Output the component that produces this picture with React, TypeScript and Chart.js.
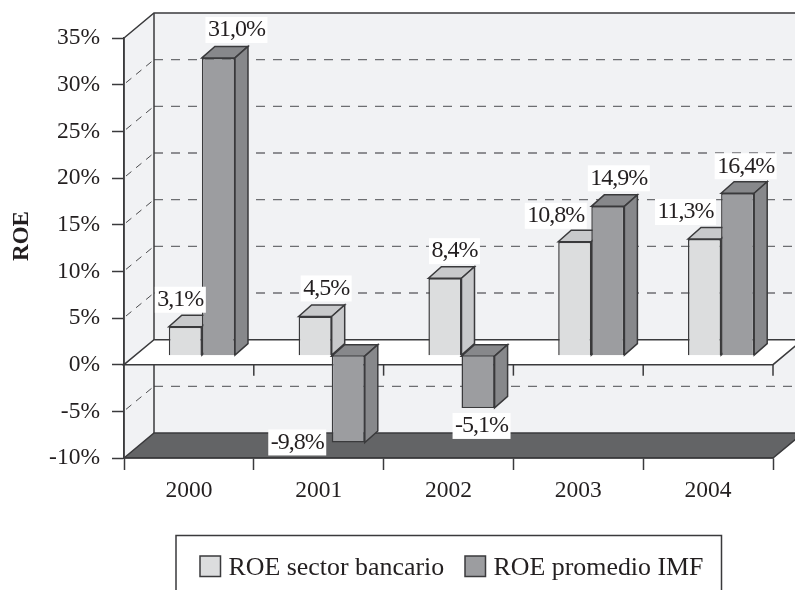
import React, { useEffect, useRef } from "react";
import { Chart, registerables } from "chart.js";

Chart.register(...registerables);

const years = ["2000", "2001", "2002", "2003", "2004"];
const seriesNames = ["ROE sector bancario", "ROE promedio IMF"];
const axisTitle = "ROE";
// Bar heights as drawn in the picture
const sectorHeights = [3.1, 4.2, 8.3, 12.2, 12.5];
const imfHeights = [31.9, -9.3, -5.6, 16.0, 17.4];
// Labels as printed on the picture
const sectorLabels = ["3,1%", "4,5%", "8,4%", "10,8%", "11,3%"];
const imfLabels = ["31,0%", "-9,8%", "-5,1%", "14,9%", "16,4%"];

const INK = "#3a3a3c";
const TEXT = "#231f20";
const WALL = "#f1f2f4";
const FLOOR = "#636466";
const GRID = "#6d6e71";
const FONT = '"Liberation Serif", serif';
const WALL_DX = 30;
const WALL_DY = -25;
const BAR_DX = 13;
const BAR_DY = -9;
const SIDE_DX = 13;
const SIDE_DY = -11.5;

const faces = [
  { front: "#dcddde", side: "#c8c9cb", top: "#c8c9cb" },
  { front: "#9c9da0", side: "#87888b", top: "#87888b" },
];
const labelNudge = [
  [[-5, -27], [11, -28], [9.5, -27], [-19, -26], [-19, -27]],
  [[18, -28], [-51, 0], [3.5, 18], [11, -28], [8, -27]],
];

function poly(ctx: CanvasRenderingContext2D, pts: number[][], fill: string | null, stroke: string | null, lw = 1.5) {
  ctx.beginPath();
  pts.forEach((p, i) => (i ? ctx.lineTo(p[0], p[1]) : ctx.moveTo(p[0], p[1])));
  if (fill) {
    ctx.closePath();
    ctx.fillStyle = fill;
    ctx.fill();
  }
  if (stroke) {
    ctx.strokeStyle = stroke;
    ctx.lineWidth = lw;
    ctx.stroke();
  }
}

const roomPlugin = {
  id: "room",
  beforeDraw(chart: any) {
    const { ctx, chartArea: a, scales } = chart;
    const y = scales.y;
    const top = a.top;
    const bottom = a.bottom;
    const z = y.getPixelForValue(0);
    const L = a.left;
    const R = a.right;
    ctx.save();
    poly(ctx, [[L + WALL_DX, top + WALL_DY], [R + WALL_DX, top + WALL_DY], [R + WALL_DX, bottom + WALL_DY], [L + WALL_DX, bottom + WALL_DY]], WALL, null);
    poly(ctx, [[L, top], [L + WALL_DX, top + WALL_DY], [L + WALL_DX, bottom + WALL_DY], [L, bottom]], WALL, null);
    for (let v = -5; v <= 30; v += 5) {
      if (v === 0) continue;
      const py = y.getPixelForValue(v);
      ctx.setLineDash([9, 8]);
      poly(ctx, [[L + WALL_DX, py + WALL_DY], [R + WALL_DX, py + WALL_DY]], null, GRID, 1.3);
      ctx.setLineDash([7, 6]);
      poly(ctx, [[L + 2, py - 2], [L + WALL_DX, py + WALL_DY]], null, INK, 0.9);
    }
    ctx.setLineDash([]);
    poly(ctx, [[L, top], [L + WALL_DX, top + WALL_DY], [R + WALL_DX, top + WALL_DY]], null, INK);
    poly(ctx, [[L + WALL_DX, top + WALL_DY], [L + WALL_DX, bottom + WALL_DY]], null, INK);
    poly(ctx, [[L, bottom], [L + WALL_DX, bottom + WALL_DY], [R + WALL_DX, bottom + WALL_DY], [R, bottom]], FLOOR, INK);
    poly(ctx, [[L, z], [L + WALL_DX, z + WALL_DY], [R + WALL_DX, z + WALL_DY], [R, z]], "#ffffff", INK);
    const step = (R - L) / years.length;
    for (let i = 1; i <= years.length; i++) {
      poly(ctx, [[L + i * step, z], [L + i * step, z + 11]], null, INK);
    }
    poly(ctx, [[L, top], [L, bottom]], null, INK);
    ctx.restore();
  },
  // The library would paint the later dataset first; the picture needs it on top.
  beforeDatasetDraw() {
    return false;
  },
  beforeDatasetsDraw(chart: any) {
    const { ctx } = chart;
    [0, 1].forEach((s) => {
      const meta = chart.getDatasetMeta(s);
      const f = faces[s];
      ctx.save();
      ctx.translate(BAR_DX, BAR_DY);
      meta.data.forEach((bar: any) => {
        const w = bar.width / 2;
        const l = bar.x - w;
        const r = bar.x + w;
        const t = Math.min(bar.y, bar.base);
        const b = Math.max(bar.y, bar.base);
        poly(ctx, [[l, t], [l + SIDE_DX, t + SIDE_DY], [r + SIDE_DX, t + SIDE_DY], [r, t]], f.top, INK);
        poly(ctx, [[r, t], [r + SIDE_DX, t + SIDE_DY], [r + SIDE_DX, b + SIDE_DY], [r, b]], f.side, INK);
      });
      meta.controller.draw();
      ctx.restore();
    });
  },
  afterDatasetsDraw(chart: any) {
    const { ctx } = chart;
    ctx.save();
    ctx.font = `24px ${FONT}`;
    (ctx as any).letterSpacing = "-1px";
    ctx.textAlign = "center";
    ctx.textBaseline = "middle";
    [sectorLabels, imfLabels].forEach((labels, s) => {
      const meta = chart.getDatasetMeta(s);
      labels.forEach((text, i) => {
        const bar = meta.data[i];
        const edge = bar.y + BAR_DY;
        const cx = bar.x + BAR_DX + labelNudge[s][i][0];
        const cy = edge + labelNudge[s][i][1];
        const w = ctx.measureText(text).width + 5;
        ctx.fillStyle = "#ffffff";
        ctx.fillRect(cx - w / 2, cy - 13, w, 26);
        ctx.fillStyle = TEXT;
        ctx.fillText(text, cx, cy);
      });
    });
    (ctx as any).letterSpacing = "0px";
    // legend
    poly(ctx, [[176, 590], [176, 535.5], [721.5, 535.5], [721.5, 590]], null, INK);
    ctx.textAlign = "left";
    ctx.textBaseline = "alphabetic";
    ctx.font = `25.9px ${FONT}`;
    const xs = [200, 465];
    seriesNames.forEach((name, s) => {
      ctx.fillStyle = faces[s].front;
      ctx.fillRect(xs[s], 556, 20.5, 20.5);
      ctx.strokeStyle = INK;
      ctx.lineWidth = 1.5;
      ctx.strokeRect(xs[s], 556, 20.5, 20.5);
      ctx.fillStyle = TEXT;
      ctx.fillText(name, xs[s] + 28.5, 575);
    });
    // axis title
    ctx.translate(22, 236);
    ctx.rotate(-Math.PI / 2);
    ctx.textAlign = "center";
    ctx.textBaseline = "middle";
    ctx.font = `bold 23px ${FONT}`;
    ctx.fillText(axisTitle, 0, 0);
    ctx.restore();
  },
};

export default function App() {
  const ref = useRef<HTMLCanvasElement>(null);
  useEffect(() => {
    const chart = new Chart(ref.current as HTMLCanvasElement, {
      type: "bar",
      data: {
        labels: years,
        datasets: [
          { label: seriesNames[0], data: sectorHeights, backgroundColor: faces[0].front, borderColor: INK, borderWidth: 1.5 },
          { label: seriesNames[1], data: imfHeights, backgroundColor: faces[1].front, borderColor: INK, borderWidth: 1.5 },
        ],
      } as any,
      options: {
        responsive: false,
        animation: false,
        layout: { padding: { top: 38, right: 22, left: 0, bottom: 0 } },
        categoryPercentage: 0.51,
        barPercentage: 1,
        plugins: { legend: { display: false }, tooltip: { enabled: false } },
        scales: {
          x: {
            grid: { drawOnChartArea: false, tickLength: 12, tickColor: INK, tickWidth: 1.5 },
            border: { color: INK, width: 1.5 },
            ticks: { color: TEXT, font: { family: FONT, size: 23.5 }, padding: 7, maxRotation: 0 },
            afterFit(s: any) { s.height = 132; },
          },
          y: {
            min: -10,
            max: 35,
            grid: { drawOnChartArea: false, tickLength: 12, tickColor: INK, tickWidth: 1.5 },
            border: { color: INK, width: 1.5 },
            ticks: { stepSize: 5, color: TEXT, font: { family: FONT, size: 23.5 }, padding: 12, callback: (v: any) => `${v}%` },
            afterFit(s: any) { s.width = 124; },
          },
        },
      } as any,
      plugins: [roomPlugin],
    });
    return () => chart.destroy();
  }, []);
  return <canvas ref={ref} width={795} height={590} style={{ position: "absolute", left: 0, top: 0 }} />;
}
